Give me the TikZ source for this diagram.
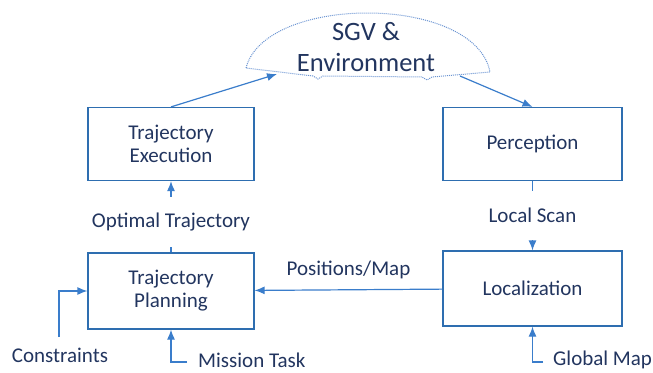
\documentclass[tikz,border=0pt]{standalone}
\usepackage{fontspec}
\setmainfont{Carlito}
\usepackage{tikz}
\usetikzlibrary{arrows.meta}
\definecolor{boxblue}{HTML}{2E6EB0}
\definecolor{arrblue}{HTML}{3A7DCB}
\definecolor{txtblue}{HTML}{22355F}
\definecolor{cloudblue}{HTML}{6A94D2}
\begin{document}
\begin{tikzpicture}[x=1pt,y=-1pt]
							\tikzstyle{block}=[rectangle,draw=boxblue,line width=1.2pt,text=txtblue,align=center,font=\fontsize{21}{23}\selectfont]
							\tikzstyle{lbl}=[text=txtblue,font=\fontsize{21}{23}\selectfont,inner sep=0pt]
							\tikzstyle{arr}=[draw=arrblue,line width=1.2pt,-{Latex[length=10pt,width=8pt]}]
							\useasboundingbox (0,0) rectangle (653,372);
							\node[block,minimum width=166pt,minimum height=73pt] (exec) at (171,144) {Trajectory\\Execution};
							\node[block,minimum width=179pt,minimum height=73pt] (perc) at (532.5,144) {Perception};
							\node[block,minimum width=166pt,minimum height=76pt] (plan) at (171,291) {Trajectory\\Planning};
							\node[block,minimum width=179pt,minimum height=75pt] (loc) at (532.5,288.5) {Localization};
							% cloud
							\draw[cloudblue,line width=1pt,densely dotted] (246,68) .. controls (265,-6) and (475,-6) .. (490,72)
								-- (432,77) -- (427,80) -- (422,77) -- (323,76) -- (318,79) -- (313,76) -- cycle;
							\node[text=txtblue,align=center,font=\fontsize{26.5}{31}\selectfont] (env) at (366,47) {SGV \&\\Environment};
							\coordinate (cin) at (277,74);
							\coordinate (cout) at (460,76);
							% inputs
							\node[lbl] (cons) at (60,355) {Constraints};
							\node[lbl,anchor=west] (mis) at (198,360) {Mission Task};
							\node[lbl,anchor=west] (gmap) at (553,360) {Global Map};
							\coordinate (consin) at (59,337);
							\coordinate (misin) at (187,362);
							\coordinate (gin) at (543,362);
							\draw[arr] (exec.north) -- (cin);
							\draw[arr] (cout) -- (perc.north);
							\draw[arr] (perc) -- node[lbl,fill=white,inner ysep=17pt] {Local Scan} (loc);
							\draw[arr] (plan) -- node[lbl,fill=white,inner ysep=16pt,pos=0.43] {Optimal Trajectory} (exec);
							\draw[arr] (loc) -- node[lbl,above=10pt] {Positions/Map} (plan);
							\draw[arr] (consin) |- (plan.west);
							\draw[arr] (misin) -| (plan.south);
							\draw[arr] (gin) -| (loc.south);
\end{tikzpicture}
\end{document}
